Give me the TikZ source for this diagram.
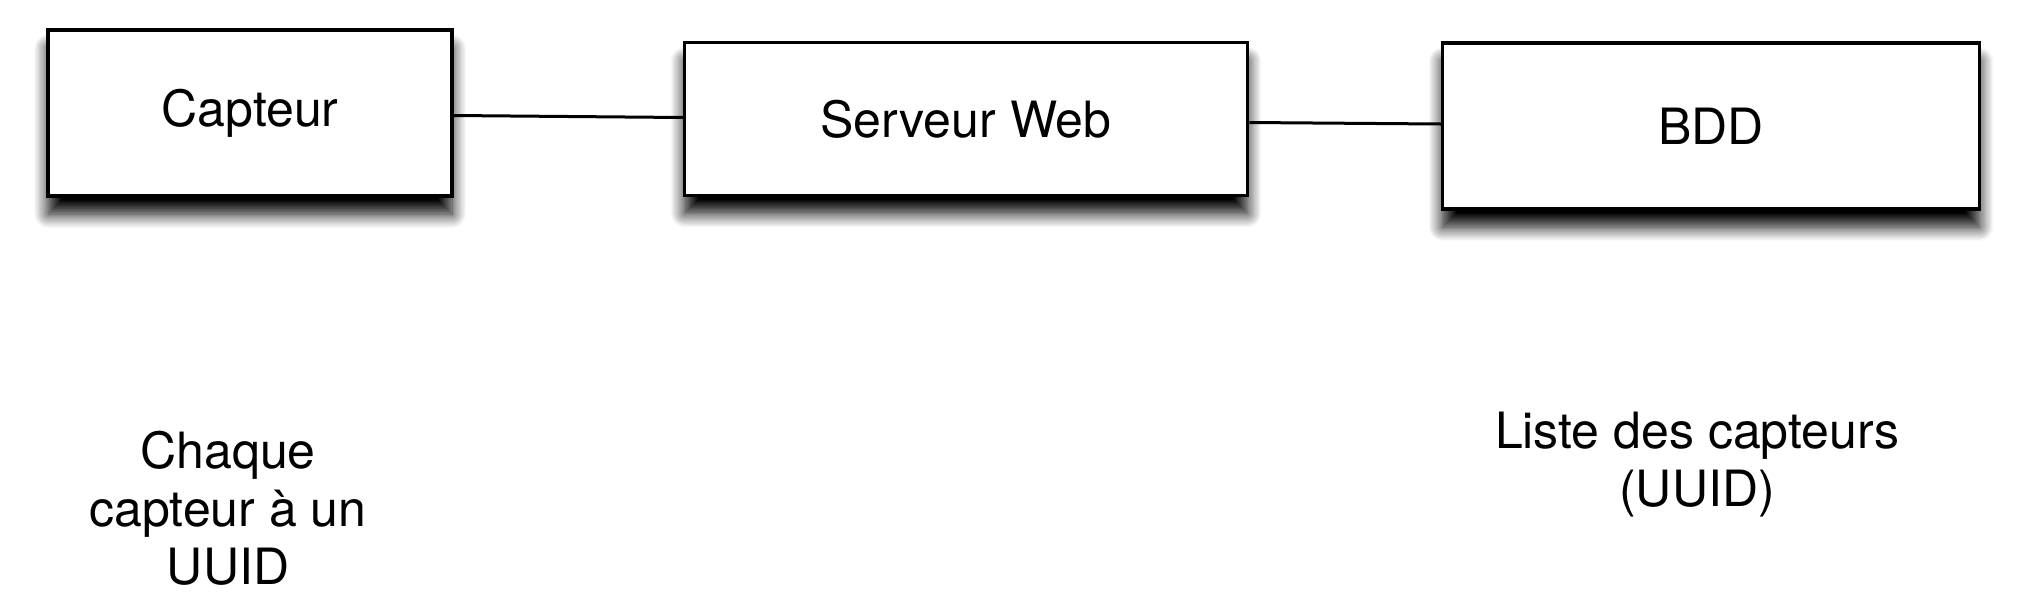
\documentclass[tikz,border=0pt]{standalone}
\usepackage{fontspec}
\setmainfont{TeX Gyre Heros}
\usepackage{tikz}
\usetikzlibrary{shadows.blur}

\tikzset{
	boite/.style={draw, line width=3.5pt, fill=white, inner sep=0pt,
		blur shadow={shadow xshift=0pt, shadow yshift=-18pt, shadow blur radius=14pt, shadow opacity=100, shadow blur steps=12}},
	lien/.style={line width=3pt},
	note/.style={align=center, inner sep=0pt},
}

\begin{document}
\begin{tikzpicture}[x=1pt,y=1pt,yscale=-1, every node/.style={font=\fontsize{50}{58}\selectfont}]
	\useasboundingbox (0,0) rectangle (2024,595);
	
	% les trois boites
	\node [boite, minimum width=404pt, minimum height=166pt] (capteur) at (250,113) {Capteur};
	\node [boite, minimum width=563pt, minimum height=153pt] (serveur) at (966,119) {Serveur Web};
	\node [boite, minimum width=537pt, minimum height=166pt] (bdd) at (1711,126) {BDD};
	
	% liaisons
	\draw [lien] ([yshift=2.5pt]capteur.east) -- ([yshift=-1.5pt]serveur.west);
	\draw [lien] ([yshift=3.5pt]serveur.east) -- ([yshift=-2pt]bdd.west);
	
	% notes
	\node [note] (noteCapteur) at (228,508) {Chaque\\capteur à un\\UUID};
	\node [note] (noteBdd) at (1697,465) {Liste des capteurs\\(UUID)};
\end{tikzpicture}
\end{document}
